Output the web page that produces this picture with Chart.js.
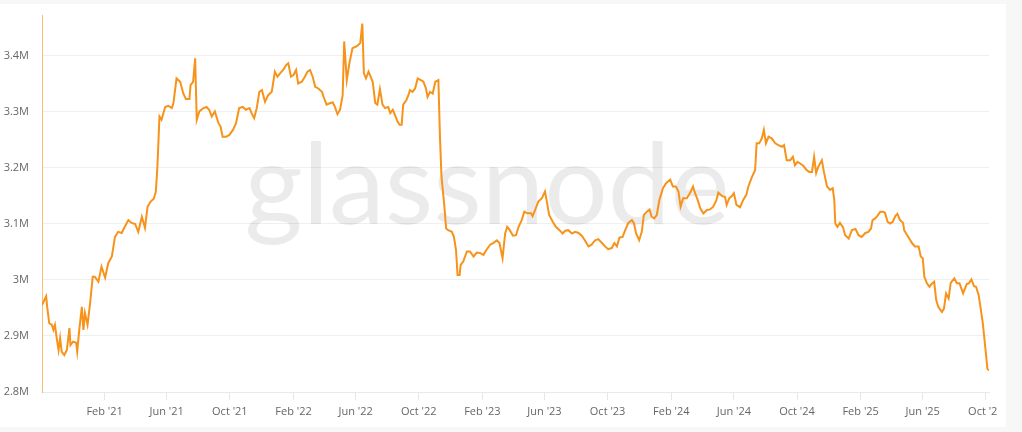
<!DOCTYPE html>
<html><head><meta charset="utf-8">
<script src="https://cdn.jsdelivr.net/npm/chart.js@4.4.1/dist/chart.umd.min.js"></script>
<style>
html,body{margin:0;padding:0;background:#f7f7f8;width:1022px;height:432px;overflow:hidden}
#panel{position:absolute;left:0;top:4px;width:1006px;height:423px;background:#fff}
#c{position:absolute;left:0;top:0}
</style></head><body>
<div id="panel"><canvas id="c" width="997" height="423"></canvas></div>
<script>
// day offsets from startDate
const startDate = '2020-10-03';
const days = [
0,8,10,14,19,22,25,28,32,35,
38,43,48,53,55,60,66,68,72,77,
80,83,88,93,98,102,109,115,122,128,
135,141,147,154,160,167,173,180,186,193,
199,204,210,216,220,223,227,231,238,244,
251,254,260,267,273,278,285,287,292,296,
299,304,
312,318,323,328,334,341,345,349,356,362,
369,375,381,388,394,401,405,410,415,420,
425,431,437,444,450,455,460,466,472,476,
481,486,491,495,502,508,513,518,523,528,
534,541,545,550,557,562,566,571,576,581,
584,589,594,600,605,609,615,619,622,626,
631,635,639,644,648,653,658,663,669,673,
678,682,687,691,695,698,704,708,711,716,
721,726,732,737,742,745,750,755,760,766,
769,772,777,781,785,792,796,800,803,807,
809,814,821,827,834,840,847,853,859,866,
872,879,884,
890,895,899,904,910,916,921,927,932,938,
945,948,953,959,966,972,975,980,987,993,
1000,1006,1011,1017,1024,1030,1037,1043,1049,1056,
1062,1069,1075,1082,1088,1094,1101,1106,1111,1116,
1122,1127,1133,1140,1144,1148,1154,1159,1163,1169,
1174,1178,1183,1188,1193,1200,1206,
1214,1219,1225,1230,1234,1239,1246,1252,1258,1262,
1267,1272,1278,1285,1291,1297,1303,1307,1314,1320,
1323,1328,1333,1337,1342,1349,1355,1361,1365,1372,
1378,1381,1386,1391,1395,1399,1404,1410,1417,1423,
1430,1434,1439,1446,1451,1455,1460,1465,1471,1478,
1483,1488,1492,1496,1500,1507,1511,1517,1523,
1528,1531,1533,1537,1542,1548,1552,1559,1565,1572,
1578,1584,1591,1597,1602,1605,1610,1614,1620,1625,
1629,1634,1639,1644,1649,1653,1658,1664,1666,1672,
1678,1681,1687,1694,1698,1702,1705,1710,1715,1719,
1724,1728,1732,1739,1743,1747,1752,1756,1763,1768,
1773,1780,1787,1791,1796,1801,1805,1810,1814,1818,
1821,1824,1827,1830
];
// values in millions
const supply = [
2.955,2.971,2.952,2.923,2.920,2.911,2.920,2.899,2.875,2.896,
2.872,2.866,2.875,2.914,2.884,2.890,2.888,2.872,2.911,2.952,
2.911,2.941,2.920,2.959,3.006,3.006,2.997,3.024,3.004,3.030,
3.042,3.077,3.086,3.084,3.095,3.107,3.102,3.100,3.086,3.113,
3.093,3.131,3.140,3.145,3.158,3.202,3.292,3.286,3.309,3.311,
3.307,3.316,3.360,3.354,3.333,3.323,3.323,3.348,3.354,3.396,
3.286,3.301,
3.307,3.309,3.304,3.292,3.301,3.280,3.274,3.256,3.256,3.259,
3.268,3.280,3.307,3.309,3.304,3.307,3.298,3.289,3.307,3.336,
3.339,3.318,3.330,3.336,3.372,3.363,3.369,3.375,3.384,3.387,
3.363,3.366,3.375,3.351,3.354,3.363,3.372,3.375,3.363,3.345,
3.342,3.336,3.325,3.313,3.316,3.317,3.309,3.296,3.304,3.330,
3.426,3.357,3.387,3.414,3.416,3.418,3.423,3.458,3.369,3.360,
3.372,3.363,3.354,3.316,3.313,3.341,3.313,3.307,3.309,3.298,
3.304,3.295,3.283,3.277,3.277,3.313,3.321,3.330,3.339,3.336,
3.342,3.360,3.357,3.354,3.342,3.327,3.336,3.333,3.354,3.357,
3.256,3.184,3.137,3.092,3.089,3.086,3.077,3.054,3.009,3.009,
3.027,3.033,3.051,3.051,3.042,3.049,3.048,3.045,3.054,3.063,
3.066,3.071,3.066,
3.039,3.083,3.095,3.089,3.079,3.080,3.095,3.107,3.122,3.119,
3.119,3.114,3.125,3.140,3.146,3.158,3.143,3.116,3.104,3.095,
3.089,3.083,3.088,3.089,3.083,3.086,3.084,3.079,3.071,3.060,
3.063,3.071,3.073,3.066,3.060,3.055,3.057,3.066,3.060,3.076,
3.077,3.089,3.102,3.107,3.101,3.083,3.071,3.086,3.116,3.122,
3.126,3.113,3.110,3.116,3.143,3.164,3.173,
3.179,3.167,3.167,3.158,3.131,3.146,3.146,3.155,3.167,3.155,
3.143,3.128,3.119,3.125,3.126,3.131,3.142,3.156,3.150,3.148,
3.134,3.146,3.150,3.155,3.134,3.130,3.143,3.152,3.167,3.184,
3.196,3.244,3.244,3.253,3.268,3.244,3.256,3.253,3.244,3.241,
3.238,3.241,3.214,3.214,3.220,3.205,3.211,3.208,3.204,3.196,
3.193,3.193,3.220,3.191,3.202,3.214,3.193,3.167,3.161,
3.164,3.143,3.101,3.095,3.102,3.094,3.080,3.074,3.089,3.091,
3.080,3.077,3.084,3.086,3.092,3.107,3.110,3.114,3.122,3.122,
3.120,3.104,3.101,3.104,3.114,3.118,3.107,3.102,3.089,3.080,
3.071,3.066,3.060,3.060,3.042,3.039,3.006,2.994,2.988,2.993,
2.997,2.964,2.952,2.943,2.949,2.976,2.967,2.995,3.003,2.994,
2.994,2.976,2.993,2.994,3.001,2.989,2.988,2.973,2.949,2.923,
2.896,2.869,2.841,2.839
];
const xTickDates = ['2021-02-01','2021-06-01','2021-10-01','2022-02-01','2022-06-01','2022-10-01','2023-02-01','2023-06-01','2023-10-01','2024-02-01','2024-06-01','2024-10-01','2025-02-01','2025-06-01','2025-10-01'];
const xTickLabels = ["Feb '21","Jun '21","Oct '21","Feb '22","Jun '22","Oct '22","Feb '23","Jun '23","Oct '23","Feb '24","Jun '24","Oct '24","Feb '25","Jun '25","Oct '25"];
const yTicks = [2.8,2.9,3.0,3.1,3.2,3.3,3.4];
const yTickLabels = ['2.8M','2.9M','3M','3.1M','3.2M','3.3M','3.4M'];

const dayOf = iso => Math.round((Date.parse(iso) - Date.parse(startDate)) / 864e5);

const watermark = {
  id: 'wm',
  beforeDatasetsDraw(chart) {
    const c = chart.ctx;
    c.save();
    let size = 105;
    c.font = '400 ' + size + 'px Lato';
    const w = c.measureText('glassnode').width;
    size = Math.min(size * 495 / w, 112);
    c.font = '400 ' + size + 'px Lato';
    c.fillStyle = 'rgba(0,0,0,0.08)';
    c.textAlign = 'center';
    c.textBaseline = 'alphabetic';
    c.fillText('glassnode', 487, 220);
    c.restore();
  }
};

const tickFont = {family: 'Open Sans', size: 11};
new Chart(document.getElementById('c'), {
  type: 'line',
  data: {datasets: [{
    data: days.map((d, i) => ({x: d, y: supply[i]})),
    borderColor: '#f7931a', borderWidth: 2, pointRadius: 0, tension: 0, fill: false
  }]},
  options: {
    responsive: false, animation: false, events: [],
    layout: {padding: {top: 11, right: 8, left: 0, bottom: 0}},
    plugins: {legend: {display: false}, tooltip: {enabled: false}},
    scales: {
      x: {
        type: 'linear', min: 0, max: 1830,
        afterBuildTicks: s => { s.ticks = xTickDates.map(t => ({value: dayOf(t)})); },
        afterFit: s => { s.height = 35; s.paddingLeft = 0; s.paddingRight = 0; },
        grid: {drawOnChartArea: false, drawTicks: true, tickLength: 8, color: '#e6e6e6'},
        border: {color: '#eaeaea'},
        ticks: {autoSkip: false, maxRotation: 0, padding: 5, color: '#666', font: tickFont,
          callback: (v, i) => xTickLabels[i]}
      },
      y: {
        min: 2.8, max: 3.4732,
        afterBuildTicks: s => { s.ticks = yTicks.map(v => ({value: v})); },
        afterFit: s => { s.width = 42; s.paddingTop = 0; s.paddingBottom = 0; },
        grid: {color: '#efefef', drawTicks: false},
        border: {color: 'rgba(247,147,26,0.6)'},
        ticks: {padding: 13, color: '#666', font: tickFont, callback: (v, i) => yTickLabels[i]}
      }
    }
  },
  plugins: [watermark]
});
</script>
</body></html>
